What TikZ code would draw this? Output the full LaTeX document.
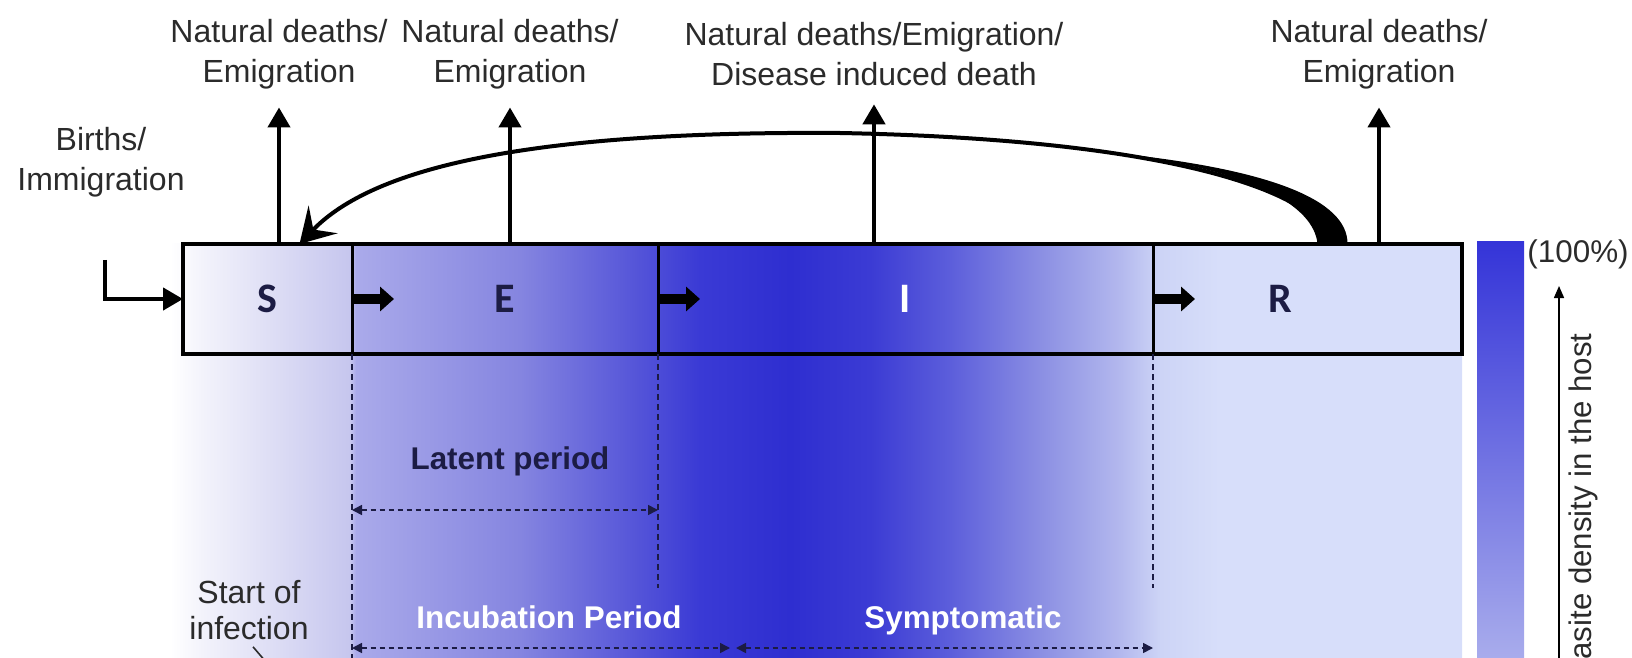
\documentclass[tikz,border=0pt]{standalone}
\usepackage{fontspec}
\setmainfont{Liberation Sans}
\newfontfamily\compfont{Carlito}
\usetikzlibrary{arrows.meta,positioning}

\definecolor{navy}{HTML}{1C1C44}
\definecolor{txtgray}{HTML}{2B2B2B}
\definecolor{pdA}{HTML}{F2F2FB}
\definecolor{pdB}{HTML}{C6C6EE}
\definecolor{pdC}{HTML}{AAAAEA}
\definecolor{pdD}{HTML}{8585E0}
\definecolor{pdE}{HTML}{5353D8}
\definecolor{pdF}{HTML}{3A3AD5}
\definecolor{pdG}{HTML}{2E2ED0}
\definecolor{pdH}{HTML}{3B3BD4}
\definecolor{pdI}{HTML}{5C5EDB}
\definecolor{pdJ}{HTML}{9094E4}
\definecolor{pdK}{HTML}{B3B8EE}
\definecolor{pdL}{HTML}{CDD4F6}
\definecolor{pdM}{HTML}{D7DEFA}
\definecolor{barTop}{HTML}{3434D8}
\definecolor{barBot}{HTML}{B4B8EE}

\pgfdeclarehorizontalshading{parasite}{100bp}{color(0bp)=(white); color(25bp)=(white);
  color(26.35bp)=(pdA); color(31.97bp)=(pdB); color(32.2bp)=(pdC); color(38.54bp)=(pdD);
  color(43.19bp)=(pdE); color(45.51bp)=(pdF); color(48.99bp)=(pdG); color(52.09bp)=(pdH);
  color(55.19bp)=(pdI); color(59.06bp)=(pdJ); color(61.76bp)=(pdK); color(63.31bp)=(pdL);
  color(65.63bp)=(pdM); color(75bp)=(pdM); color(100bp)=(pdM)}

\begin{document}
\begin{tikzpicture}[
  x=0.5pt, y=-0.5pt,
  comp/.style={rectangle, draw=black, line width=1.5pt, minimum height=55pt, inner sep=0pt, outer sep=0pt},
  complbl/.style={font=\compfont\bfseries\fontsize{21}{24}\selectfont, text=navy},
  outlbl/.style={align=center, font=\fontsize{16}{20}\selectfont, text=txtgray},
  perlbl/.style={font=\bfseries\fontsize{15.7}{18}\selectfont},
  outflow/.style={-{Triangle[length=10pt, width=11pt]}, line width=2.2pt},
  stepar/.style={-{Triangle[length=7pt, width=12pt]}, line width=5pt},
  recov/.style={-{Stealth[length=17pt, width=20pt, inset=7pt]}, line width=2pt},
  period/.style={{Triangle[length=5pt, width=5pt]}-{Triangle[length=5pt, width=5pt]}, navy, line width=0.8pt, dash pattern=on 2.5pt off 2pt},
  divider/.style={navy, line width=0.7pt, dash pattern=on 3pt off 2pt}
]
\useasboundingbox (0,0) rectangle (1632,658);

% parasite density in the background
\shade[shading=parasite] (170,243.5) rectangle (1462,700);

% compartments
\node[comp, minimum width=84.5pt] (S) at (267.5,299) {};
\node[comp, minimum width=153pt, right=0pt of S] (E) {};
\node[comp, minimum width=247.5pt, right=0pt of E] (I) {};
\node[comp, minimum width=154.5pt, right=0pt of I] (R) {};
\draw[line width=2.4pt] (S.north west) rectangle (R.south east);

\node[complbl] (lS) at (S.center) {S};
\node[complbl] (lE) at (E.center) {E};
\node[complbl, text=white] (lI) at (I.center) {I};
\node[complbl] (lR) at ([xshift=-13.5pt]R.center) {R};

\draw[stepar] (S.east) -- ([xshift=21pt]S.east);
\draw[stepar] (E.east) -- ([xshift=21pt]E.east);
\draw[stepar] (I.east) -- ([xshift=21pt]I.east);

% flows in and out
\node[outlbl] (outS) at (279,54) {Natural deaths/\\Emigration};
\node[outlbl] (outE) at (510,54) {Natural deaths/\\Emigration};
\node[outlbl] (outI) at (874,54) {Natural deaths/Emigration/\\Disease induced death};
\node[outlbl] (outR) at (1379,54) {Natural deaths/\\Emigration};
\node[outlbl] (birth) at (101,162) {Births/\\Immigration};

\draw[outflow] (outS.south |- S.north) -- ([yshift=-5.75pt]outS.south);
\draw[outflow] (outE.south |- E.north) -- ([yshift=-5.75pt]outE.south);
\draw[outflow] (outI.south |- I.north) -- ([yshift=-5.75pt]outI.south);
\draw[outflow] (outR.south |- R.north) -- ([yshift=-5.75pt]outR.south);
\draw[outflow] ([xshift=2pt, yshift=-28pt]birth.south) |- (S.west);

\fill ([xshift=5pt]R.north) .. controls (1314,205) and (1250,168) .. (1104,152)
  .. controls (1270,168) and (1348,200) .. ([xshift=20pt]R.north) -- cycle;
\draw[recov] ([xshift=12.25pt]R.north) .. controls (1325,200) and (1200,140) .. (840,133)
  .. controls (560,131) and (380,160) .. ([xshift=16pt]S.north);

% periods
\draw[divider] (E.south west) -- ++(0,330);
\draw[divider] (I.south west) -- ++(0,234);
\draw[divider] (R.south west) -- ++(0,234);

\node[perlbl, text=navy] (latent) at (510,461) {Latent period};
\draw[period] ([yshift=-78pt]E.south west) -- ([yshift=-78pt]I.south west);

\coordinate (onset) at (733,648);
\node[perlbl, text=white] (incub) at (549,617) {Incubation Period};
\node[perlbl, text=white] (sympt) at (963,620) {Symptomatic};
\draw[period] ([yshift=-147pt]E.south west) -- ([xshift=-1.5pt]onset);
\draw[period] ([xshift=1.5pt]onset) -- ([yshift=-147pt]R.south west);

\node[outlbl, font=\fontsize{16}{18}\selectfont] (start) at (249,610) {Start of\\infection};
\coordinate (ptr) at (290,690);
\draw[txtgray, line width=0.8pt] ([xshift=2pt]start.south) -- (ptr);

% density scale
\shade[top color=barTop, bottom color=barBot] (1477,241.5) rectangle (1524,700);
\node[anchor=west, inner sep=0pt, font=\fontsize{15.7}{18}\selectfont, text=txtgray] (full) at (1527,254) {(100\%)};
\coordinate (dbase) at (1559,700);
\coordinate (dtop) at (1559,286);
\draw[-{Triangle[length=6pt, width=5pt]}, line width=0.8pt] (dbase) -- (dtop);
\node[rotate=90, anchor=east, inner sep=0pt, font=\fontsize{15.6}{18}\selectfont, text=txtgray] (dens) at (1583,333) {Parasite density in the host};
\end{tikzpicture}
\end{document}
